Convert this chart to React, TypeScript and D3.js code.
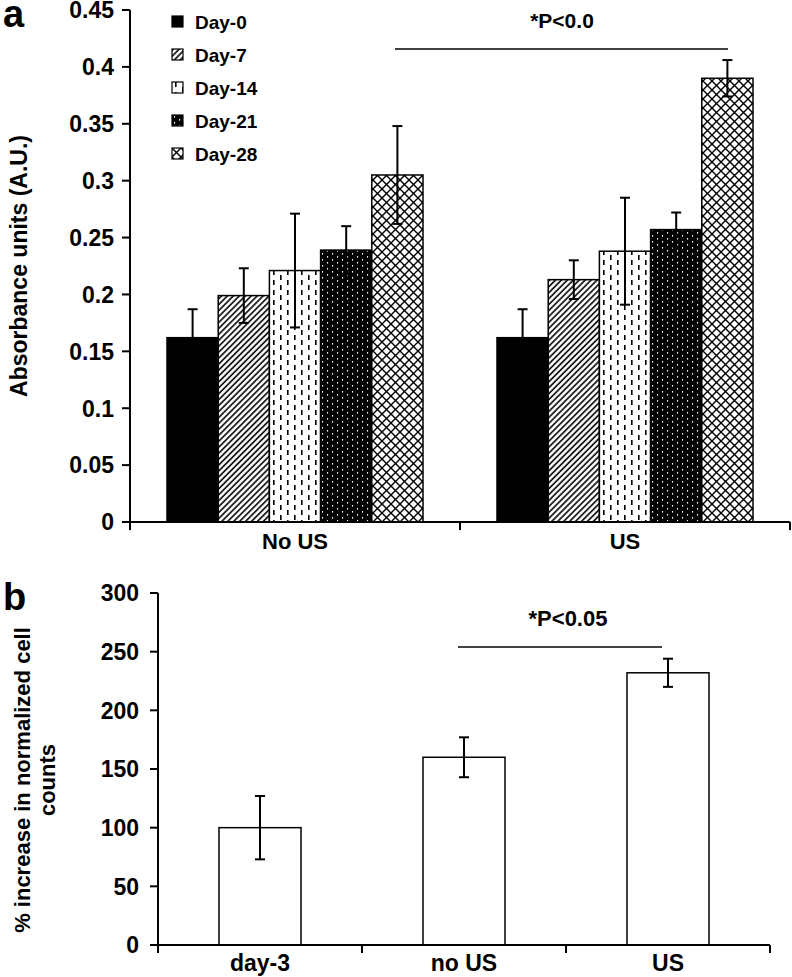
import React from "react";
import * as d3 from "d3";

const groupsA = ["No US", "US"];
const seriesA = ["Day-0", "Day-7", "Day-14", "Day-21", "Day-28"];
const noUSVals = [0.162, 0.199, 0.221, 0.239, 0.305];
const noUSErr = [0.025, 0.024, 0.05, 0.021, 0.043];
const usVals = [0.162, 0.213, 0.238, 0.257, 0.39];
const usErr = [0.025, 0.017, 0.047, 0.015, 0.016];
const ticksA = [0, 0.05, 0.1, 0.15, 0.2, 0.25, 0.3, 0.35, 0.4, 0.45];
const tickLabelsA = ["0", "0.05", "0.1", "0.15", "0.2", "0.25", "0.3", "0.35", "0.4", "0.45"];

const catsB = ["day-3", "no US", "US"];
const valsB = [100, 160, 232];
const errsB = [27, 17, 12];
const ticksB = [0, 50, 100, 150, 200, 250, 300];

const FONT = "'Liberation Sans', Arial, Helvetica, sans-serif";
const patternIds = ["p0", "p7", "p14", "p21", "p28"];

export default function App() {
  // Panel a scales
  const xA = d3.scaleBand<string>().domain(groupsA).range([130, 790]);
  const xA1 = d3.scaleBand<string>().domain(seriesA).range([37, 293]);
  const yA = d3.scaleLinear().domain([0, 0.45]).range([522, 10]);
  const dataA = [noUSVals, usVals];
  const errA = [noUSErr, usErr];

  // Panel b scales
  const xBaxis = d3.scaleBand<string>().domain(catsB).range([158, 770]);
  const xB = d3.scaleBand<string>().domain(catsB).range([158, 770]).paddingInner(0.598).paddingOuter(0.299);
  const yB = d3.scaleLinear().domain([0, 300]).range([945, 593]);

  const cap = 5;

  return (
    <svg width={792} height={977} style={{ position: "absolute", left: 0, top: 0, background: "#fff" }} fontFamily={FONT} fontWeight="bold">
      <defs>
        <pattern id="p0" patternUnits="userSpaceOnUse" width={4} height={4}>
          <rect width={4} height={4} fill="#000" />
        </pattern>
        <pattern id="p7" patternUnits="userSpaceOnUse" width={4.2} height={4.2} patternTransform="rotate(45)">
          <rect width={4.2} height={4.2} fill="#fff" />
          <line x1={1} y1={0} x2={1} y2={4.2} stroke="#000" strokeWidth={1.6} />
        </pattern>
        <pattern id="p14" patternUnits="userSpaceOnUse" width={14} height={10}>
          <rect width={14} height={10} fill="#fff" />
          <rect x={3} y={0} width={1.6} height={5} fill="#000" />
          <rect x={10} y={5} width={1.6} height={5} fill="#000" />
        </pattern>
        <pattern id="p21" patternUnits="userSpaceOnUse" width={10} height={6}>
          <rect width={10} height={6} fill="#000" />
          <rect x={2} y={1} width={1.1} height={1.6} fill="#fff" />
          <rect x={7} y={4} width={1.1} height={1.6} fill="#fff" />
        </pattern>
        <pattern id="p28" patternUnits="userSpaceOnUse" width={9} height={9}>
          <rect width={9} height={9} fill="#fff" />
          <path d="M0,0 L9,9 M9,0 L0,9" stroke="#000" strokeWidth={1.4} />
        </pattern>
      </defs>

      {/* Panel a */}
      <text x={3} y={27} fontSize={38}>a</text>
      {groupsA.map((g, gi) => (
        <g key={g} transform={`translate(${xA(g)},0)`}>
          {seriesA.map((s, si) => {
            const v = dataA[gi][si];
            return (
              <rect key={s} x={xA1(s)} y={yA(v)} width={xA1.bandwidth()} height={yA(0) - yA(v)}
                fill={`url(#${patternIds[si]})`} stroke="#000" strokeWidth={1.5} />
            );
          })}
          {seriesA.map((s, si) => {
            const v = dataA[gi][si];
            const e = errA[gi][si];
            const cx = (xA1(s) as number) + xA1.bandwidth() / 2;
            return (
              <g key={s + "e"} stroke="#000" strokeWidth={2}>
                <line x1={cx} x2={cx} y1={yA(v + e)} y2={yA(v - e)} />
                <line x1={cx - cap} x2={cx + cap} y1={yA(v + e)} y2={yA(v + e)} />
                <line x1={cx - cap} x2={cx + cap} y1={yA(v - e)} y2={yA(v - e)} />
              </g>
            );
          })}
        </g>
      ))}
      <line x1={130} x2={130} y1={yA(0.45)} y2={yA(0) + 8} stroke="#000" strokeWidth={2} />
      <line x1={122} x2={790} y1={yA(0)} y2={yA(0)} stroke="#000" strokeWidth={2} />
      {ticksA.map((t, i) => (
        <g key={t}>
          <line x1={122} x2={130} y1={yA(t)} y2={yA(t)} stroke="#000" strokeWidth={2} />
          <text x={114} y={yA(t)} dy="0.36em" textAnchor="end" fontSize={23}>{tickLabelsA[i]}</text>
        </g>
      ))}
      {groupsA.map((g) => (
        <g key={g + "t"}>
          <line x1={(xA(g) as number) + xA.bandwidth()} x2={(xA(g) as number) + xA.bandwidth()} y1={yA(0)} y2={yA(0) + 8} stroke="#000" strokeWidth={2} />
          <text x={(xA(g) as number) + xA.bandwidth() / 2} y={yA(0) + 27} textAnchor="middle" fontSize={22}>{g}</text>
        </g>
      ))}
      <text transform={`translate(27,${(yA(0) + yA(0.45)) / 2}) rotate(-90)`} textAnchor="middle" fontSize={23}>Absorbance units (A.U.)</text>
      {seriesA.map((s, i) => (
        <g key={s + "l"} transform={`translate(172,${16 + i * 33})`}>
          <rect x={0} y={0} width={11} height={11} fill={`url(#${patternIds[i]})`} stroke="#000" strokeWidth={1.2} />
          <text x={23} y={6} dy="0.36em" fontSize={19}>{s}</text>
        </g>
      ))}
      <line x1={395} x2={728} y1={49} y2={49} stroke="#000" strokeWidth={1.5} />
      <text x={562} y={28} textAnchor="middle" fontSize={21}>*P&lt;0.0</text>

      {/* Panel b */}
      <text x={3} y={610} fontSize={38}>b</text>
      {catsB.map((c, i) => {
        const x = xB(c) as number;
        const cx = x + xB.bandwidth() / 2;
        return (
          <g key={c}>
            <rect x={x} y={yB(valsB[i])} width={xB.bandwidth()} height={yB(0) - yB(valsB[i])} fill="#fff" stroke="#000" strokeWidth={1.5} />
            <g stroke="#000" strokeWidth={2}>
              <line x1={cx} x2={cx} y1={yB(valsB[i] + errsB[i])} y2={yB(valsB[i] - errsB[i])} />
              <line x1={cx - cap} x2={cx + cap} y1={yB(valsB[i] + errsB[i])} y2={yB(valsB[i] + errsB[i])} />
              <line x1={cx - cap} x2={cx + cap} y1={yB(valsB[i] - errsB[i])} y2={yB(valsB[i] - errsB[i])} />
            </g>
          </g>
        );
      })}
      <line x1={158} x2={158} y1={yB(300)} y2={yB(0) + 8} stroke="#000" strokeWidth={2} />
      <line x1={150} x2={770} y1={yB(0)} y2={yB(0)} stroke="#000" strokeWidth={2} />
      {ticksB.map((t) => (
        <g key={t}>
          <line x1={150} x2={158} y1={yB(t)} y2={yB(t)} stroke="#000" strokeWidth={2} />
          <text x={139} y={yB(t)} dy="0.36em" textAnchor="end" fontSize={23}>{t}</text>
        </g>
      ))}
      {catsB.map((c) => (
        <g key={c + "t"}>
          <line x1={(xBaxis(c) as number) + xBaxis.bandwidth()} x2={(xBaxis(c) as number) + xBaxis.bandwidth()} y1={yB(0)} y2={yB(0) + 8} stroke="#000" strokeWidth={2} />
          <text x={(xBaxis(c) as number) + xBaxis.bandwidth() / 2} y={yB(0) + 26} textAnchor="middle" fontSize={23}>{c}</text>
        </g>
      ))}
      <text transform={`translate(30,${yB(0) - 165}) rotate(-90)`} textAnchor="middle" fontSize={22}>% increase in normalized cell</text>
      <text transform={`translate(55,${yB(0) - 165}) rotate(-90)`} textAnchor="middle" fontSize={22}>counts</text>
      <line x1={458} x2={662} y1={647} y2={647} stroke="#000" strokeWidth={1.5} />
      <text x={568} y={626} textAnchor="middle" fontSize={22}>*P&lt;0.05</text>
    </svg>
  );
}
